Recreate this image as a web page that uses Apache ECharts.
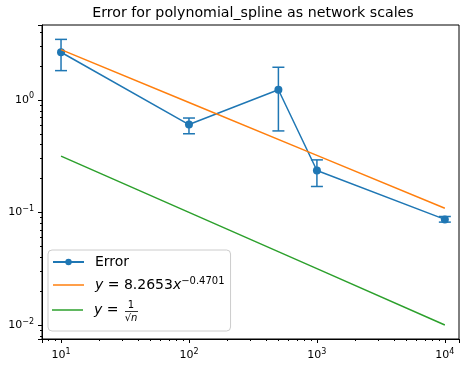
<!DOCTYPE html>
<html><head><meta charset="utf-8">
<script src="https://cdn.jsdelivr.net/npm/echarts@6/dist/echarts.min.js"></script>
<style>html,body{margin:0;padding:0;background:#fff}#c{width:460px;height:367px}</style>
</head><body><div id="c"></div>
<script>
const titleText = 'Error for polynomial_spline as network scales';
const xValues = [10, 100, 500, 1000, 10000];
const errMean = [2.65, 0.604, 1.23, 0.236, 0.0867];
const errLow = [1.82, 0.50, 0.53, 0.170, 0.082];
const errHigh = [3.45, 0.69, 1.95, 0.293, 0.092];
const fitX = [10, 100, 1000, 10000];
const fitY = [2.800, 0.9487, 0.3214, 0.1089];
const refX = [10, 100, 1000, 10000];
const refY = [0.3162, 0.1, 0.03162, 0.01];
const xTickLabels = {10: '1', 100: '2', 1000: '3', 10000: '4'};
const yTickLabels = {0.01: '−2', 0.1: '−1', 1: '0'};

const BLUE = '#1f77b4', ORANGE = '#ff7f0e', GREEN = '#2ca02c';
const FONT = 'DejaVu Sans';
const LINE_ICON = 'path://M0,0H31V1.5H0Z';

function powLabel(map) {
  return function (v) {
    for (const k in map) {
      if (Math.abs(Math.log10(v) - Math.log10(+k)) < 1e-6) return '{b|10}{s|' + map[k] + '}';
    }
    return '';
  };
}
const labelRich = {
  b: {fontSize: 11, fontFamily: FONT, color: '#000'},
  s: {fontSize: 8, fontFamily: FONT, color: '#000', padding: [0, 0, 7, 0]}
};
const legendRich = {
  t: {fontFamily: FONT, fontSize: 14, color: '#000'},
  i: {fontFamily: FONT, fontStyle: 'italic', fontSize: 14, color: '#000'},
  s: {fontFamily: FONT, fontSize: 10, color: '#000', padding: [0, 0, 8, 0]},
  g: {width: 14}
};
function legendFormatter(name) {
  if (name === 'Error') return '{t|Error}';
  if (name === 'fit') return '{i|y}{t| = 8.2653}{i|x}{s|−0.4701}';
  return '{i|y}{t| = }{g|}';
}
const legendText = {fontFamily: FONT, fontSize: 14, color: '#000', padding: [0, 0, 0, 6], rich: legendRich};

const chart = echarts.init(document.getElementById('c'), null, {renderer: 'canvas'});
const option = {
  animation: false,
  backgroundColor: '#fff',
  title: {
    text: titleText, left: 248, top: 1, textAlign: 'center',
    textStyle: {fontFamily: FONT, fontSize: 14.2, fontWeight: 'normal', color: '#000'}
  },
  grid: {left: 42, right: 1, top: 25, bottom: 28, show: true, borderColor: '#000', borderWidth: 1, backgroundColor: 'transparent'},
  xAxis: {
    type: 'log', logBase: 10, min: 7.1, max: 12900,
    axisLine: {show: true, lineStyle: {color: '#000', width: 1}},
    axisTick: {show: true, inside: false, length: 4, lineStyle: {color: '#000'}},
    minorTick: {show: true, splitNumber: 9, length: 2, lineStyle: {color: '#000'}},
    splitLine: {show: false},
    axisLabel: {formatter: powLabel(xTickLabels), rich: labelRich, margin: 9, showMinLabel: false, showMaxLabel: false}
  },
  yAxis: {
    type: 'log', logBase: 10, min: 0.0075, max: 4.63,
    axisLine: {show: true, lineStyle: {color: '#000', width: 1}},
    axisTick: {show: true, inside: false, length: 4, lineStyle: {color: '#000'}},
    minorTick: {show: true, splitNumber: 9, length: 2, lineStyle: {color: '#000'}},
    splitLine: {show: false},
    axisLabel: {formatter: powLabel(yTickLabels), rich: labelRich, margin: 8, showMinLabel: false, showMaxLabel: false}
  },
  legend: [
    {
      orient: 'vertical', left: 48, top: 250, z: 4,
      data: [{name: 'Error'}, {name: 'fit', icon: LINE_ICON}],
      symbolKeepAspect: true,
      backgroundColor: 'rgba(255,255,255,0.8)', borderColor: '#cccccc', borderWidth: 1, borderRadius: 4,
      padding: [5, 6, 39, 4], itemGap: 7, itemWidth: 31, itemHeight: 8,
      textStyle: legendText, formatter: legendFormatter
    },
    {
      orient: 'vertical', left: 48, top: 303, z: 5,
      data: [{name: 'ref', icon: LINE_ICON}],
      symbolKeepAspect: true,
      padding: [0, 0, 0, 4], itemWidth: 31, itemHeight: 8,
      textStyle: legendText, formatter: legendFormatter
    }
  ],
  series: [
    {
      name: 'errbars', type: 'custom', z: 2,
      data: xValues.map((x, i) => [x, errLow[i], errHigh[i]]),
      renderItem: function (params, api) {
        const lo = api.coord([api.value(0), api.value(1)]);
        const hi = api.coord([api.value(0), api.value(2)]);
        const hw = 6;
        const st = {stroke: BLUE, lineWidth: 1.5};
        return {type: 'group', children: [
          {type: 'line', shape: {x1: lo[0], y1: lo[1], x2: hi[0], y2: hi[1]}, style: st},
          {type: 'line', shape: {x1: lo[0] - hw, y1: lo[1], x2: lo[0] + hw, y2: lo[1]}, style: st},
          {type: 'line', shape: {x1: hi[0] - hw, y1: hi[1], x2: hi[0] + hw, y2: hi[1]}, style: st}
        ]};
      }
    },
    {
      name: 'Error', type: 'line', z: 3,
      data: xValues.map((x, i) => [x, errMean[i]]),
      symbol: 'circle', symbolSize: 8, showSymbol: true,
      lineStyle: {color: BLUE, width: 1.5}, itemStyle: {color: BLUE}
    },
    {
      name: 'fit', type: 'line', z: 4,
      data: fitX.map((x, i) => [x, fitY[i]]),
      symbol: 'none', lineStyle: {color: ORANGE, width: 1.5}, itemStyle: {color: ORANGE}
    },
    {
      name: 'ref', type: 'line', z: 5,
      data: refX.map((x, i) => [x, refY[i]]),
      symbol: 'none', lineStyle: {color: GREEN, width: 1.5}, itemStyle: {color: GREEN}
    }
  ],
  graphic: [
    {type: 'text', x: 131, y: 305, style: {text: '1', fontFamily: FONT, fontSize: 10, fill: '#000', align: 'center', verticalAlign: 'middle'}, z: 100},
    {type: 'line', shape: {x1: 125, y1: 311.5, x2: 138, y2: 311.5}, style: {stroke: '#000', lineWidth: 0.8}, z: 100},
    {type: 'text', x: 131, y: 318, style: {
      text: '{r|√}{n|n}', align: 'center', verticalAlign: 'middle',
      rich: {r: {fontFamily: FONT, fontSize: 10, fill: '#000'}, n: {fontFamily: FONT, fontStyle: 'italic', fontSize: 10, fill: '#000'}}
    }, z: 100}
  ]
};
chart.setOption(option);
</script></body></html>
